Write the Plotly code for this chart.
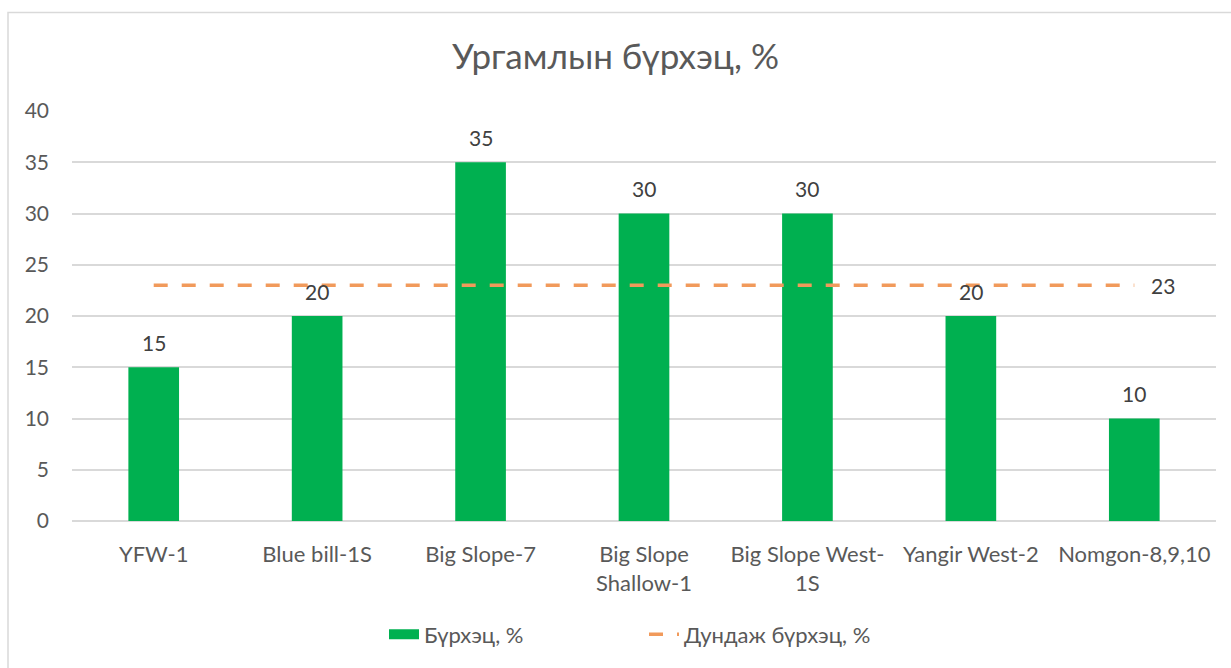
import plotly.graph_objects as go

categories = ["YFW-1", "Blue bill-1S", "Big Slope-7", "Big Slope<br>Shallow-1",
              "Big Slope West-<br>1S", "Yangir West-2", "Nomgon-8,9,10"]
coverage = [15, 20, 35, 30, 30, 20, 10]
average = [23, 23, 23, 23, 23, 23, 23]
y_ticks = [0, 5, 10, 15, 20, 25, 30, 35, 40]

FONT = "Lato"
GREEN = "#00B050"
ORANGE = "#F19A5B"
LABEL = dict(size=21, color="#404040", family=FONT)

fig = go.Figure()
fig.add_trace(go.Bar(
    x=categories, y=coverage, name="Бүрхэц, %",
    marker=dict(color=GREEN, line=dict(width=0)),
    showlegend=False,
))
# legend-only entry so the key is a wide green band as in the original
fig.add_trace(go.Scatter(
    x=[None], y=[None], name="Бүрхэц, %", mode="lines",
    line=dict(color=GREEN, width=13), showlegend=True,
))
fig.add_trace(go.Scatter(
    x=categories, y=average, name="Дундаж бүрхэц, %",
    mode="lines",
    line=dict(color=ORANGE, width=3.5, dash="14px,14px"),
    cliponaxis=False,
))

annotations = []
for c, v in zip(categories, coverage):
    annotations.append(dict(x=c, y=v, xref="x", yref="y", text=str(v),
                            showarrow=False, yanchor="middle", yshift=25,
                            font=LABEL))
annotations.append(dict(x=categories[-1], y=average[-1], xref="x", yref="y",
                        text=str(average[-1]), showarrow=False,
                        xanchor="center", yanchor="middle", xshift=29,
                        font=LABEL))

fig.update_layout(
    width=1231, height=668,
    margin=dict(l=72, r=15, t=111, b=145),
    paper_bgcolor="white", plot_bgcolor="white",
    font=dict(family=FONT, color="#595959", size=21),
    title=dict(text="Ургамлын бүрхэц, %", x=0.5, xanchor="center",
               y=1 - 57 / 668, yanchor="middle",
               font=dict(size=35, color="#595959", family=FONT)),
    bargap=0.69,
    showlegend=True,
    legend=dict(orientation="h", x=0.5, xanchor="center", y=-0.277,
                yanchor="middle", font=dict(size=22, color="#595959"),
                entrywidth=215, entrywidthmode="pixels"),
    xaxis=dict(showgrid=False, showline=False, ticks="",
               ticklabelstandoff=18,
               tickfont=dict(size=22, color="#595959")),
    yaxis=dict(range=[0, 40], tickvals=y_ticks, showgrid=True,
               gridcolor="#D9D9D9", gridwidth=1.5, zeroline=True,
               zerolinecolor="#D9D9D9", zerolinewidth=1.5,
               ticks="", ticklabelstandoff=22,
               tickfont=dict(size=21, color="#595959")),
    annotations=annotations,
    shapes=[dict(type="rect", xref="paper", yref="paper",
                 x0=(8 - 72) / 1144, x1=1.2, y0=-0.5, y1=1 + (111 - 12) / 412,
                 line=dict(color="#D9D9D9", width=1.5), fillcolor="rgba(0,0,0,0)",
                 layer="below")],
)

fig.write_html("out.html", config={"displayModeBar": False},
               post_script="document.body.style.margin='0';document.body.style.overflow='hidden';")
